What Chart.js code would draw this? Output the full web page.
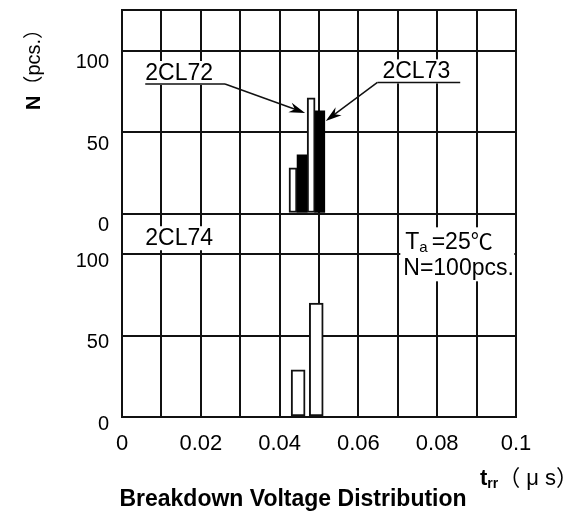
<!DOCTYPE html>
<html>
<head>
<meta charset="utf-8">
<script src="https://cdn.jsdelivr.net/npm/chart.js@4.4.0/dist/chart.umd.min.js"></script>
<style>
  html, body { margin: 0; padding: 0; background: #fff; }
</style>
</head>
<body>
<canvas id="chart" width="574" height="525"></canvas>
<script>
// tick labels
const xTickLabels = [0, 0.02, 0.04, 0.06, 0.08, 0.1];
const yTickLabels = [0, 50, 100];

// upper panel: 2CL72 (white) and 2CL73 (black)
const times72 = [0.0434, 0.0480];
const counts72 = [28, 71];
const times73 = [0.0457, 0.0502];
const counts73 = [36, 63];
// lower panel: 2CL74
const times74 = [0.0447, 0.0493];
const counts74 = [29, 70];

const FONT = "'Liberation Sans', Arial, 'Noto Sans CJK SC', sans-serif";
const INK = "#111";

Chart.defaults.font.family = FONT;
Chart.defaults.color = "#000";

const toPoints = (xs, ys) => xs.map((t, i) => ({ x: t, y: ys[i] }));

const yAxis = (labelOffset) => ({
  type: "linear",
  position: "left",
  stack: "n",
  stackWeight: 1,
  min: 0,
  max: 125,
  offset: false,
  grid: { color: INK, lineWidth: 2, drawTicks: false },
  border: { color: INK, width: 2 },
  ticks: {
    stepSize: 25,
    padding: 13,
    labelOffset: labelOffset,
    font: { size: 20 },
    color: "#000",
    callback: (v) => (yTickLabels.includes(v) ? String(v) : "")
  },
  afterFit: (s) => {
    s.width = 110;
    s.paddingTop = 0;
    s.paddingBottom = 0;
  }
});

const textWithBg = (ctx, str, x, y) => {
  const w = ctx.measureText(str).width;
  ctx.fillStyle = "#fff";
  ctx.fillRect(x - 3, y - 19, w + 6, 24);
  ctx.fillStyle = "#000";
  ctx.fillText(str, x, y);
  return w;
};

const arrow = (ctx, x1, y1, x2, y2) => {
  const a = Math.atan2(y2 - y1, x2 - x1);
  const len = 16, half = 5;
  const bx = x2 - len * Math.cos(a), by = y2 - len * Math.sin(a);
  ctx.beginPath();
  ctx.moveTo(x1, y1);
  ctx.lineTo(x2 - 10 * Math.cos(a), y2 - 10 * Math.sin(a));
  ctx.stroke();
  ctx.beginPath();
  ctx.moveTo(x2, y2);
  ctx.lineTo(bx + half * Math.sin(a), by - half * Math.cos(a));
  ctx.lineTo(x2 - 11 * Math.cos(a), y2 - 11 * Math.sin(a));
  ctx.lineTo(bx - half * Math.sin(a), by + half * Math.cos(a));
  ctx.closePath();
  ctx.fill();
};

const notes = {
  id: "notes",
  afterDatasetsDraw(chart) {
    const { ctx, scales } = chart;
    const x = scales.x, yTop = scales.yTop, yBot = scales.yBot;
    ctx.save();
    ctx.font = "23px " + FONT;
    ctx.textBaseline = "alphabetic";
    ctx.strokeStyle = INK;
    ctx.fillStyle = "#000";
    ctx.lineWidth = 1.5;

    // 2CL72 label, underline and arrow to the tall white bar
    let lx = x.getPixelForValue(0.0059), ly = yTop.getPixelForValue(82);
    let w = textWithBg(ctx, "2CL72", lx, ly);
    ctx.beginPath();
    ctx.moveTo(lx, ly + 4);
    ctx.lineTo(lx + w + 12, ly + 4);
    ctx.stroke();
    arrow(ctx, lx + w + 12, ly + 4,
      x.getPixelForValue(times72[1]) - 6, yTop.getPixelForValue(counts72[1]) + 15);

    // 2CL73 label, underline and arrow to the tall black bar
    lx = x.getPixelForValue(0.0661); ly = yTop.getPixelForValue(83);
    w = textWithBg(ctx, "2CL73", lx, ly);
    ctx.beginPath();
    ctx.moveTo(lx - 5, ly + 4);
    ctx.lineTo(lx + w + 10, ly + 4);
    ctx.stroke();
    arrow(ctx, lx - 5, ly + 4,
      x.getPixelForValue(times73[1]) + 6, yTop.getPixelForValue(counts73[1]) + 10);

    // 2CL74 label
    textWithBg(ctx, "2CL74", x.getPixelForValue(0.0059), yBot.getPixelForValue(105.5));

    // conditions box
    const cx = x.getPixelForValue(0.0719);
    const c1 = yBot.getPixelForValue(103), c2 = yBot.getPixelForValue(87);
    ctx.fillStyle = "#fff";
    ctx.fillRect(cx - 5, c1 - 22, 114, 54);
    ctx.fillStyle = "#000";
    ctx.fillText("T", cx, c1);
    let tw = ctx.measureText("T").width;
    ctx.font = "15px " + FONT;
    ctx.fillText("a", cx + tw, c1 + 3);
    tw += ctx.measureText("a").width + 4;
    ctx.font = "23px " + FONT;
    ctx.fillText("=25", cx + tw, c1);
    tw += ctx.measureText("=25").width;
    ctx.font = "22px 'Noto Sans CJK SC', " + FONT;
    ctx.fillText("℃", cx + tw, c1);
    ctx.font = "23px " + FONT;
    ctx.fillText("N=100pcs.", cx - 2, c2);

    // y axis title, rotated, beside the upper panel
    ctx.save();
    ctx.translate(40, 110);
    ctx.rotate(-Math.PI / 2);
    ctx.font = "bold 20px " + FONT;
    ctx.fillText("N", 0, 0);
    const nw = ctx.measureText("N").width;
    ctx.font = "20px " + FONT;
    ctx.fillText("（pcs.）", nw, 0);
    ctx.restore();

    // x axis title t_rr (μs)
    let ax = 480;
    const ab = 485;
    ctx.font = "bold 22px " + FONT;
    ctx.fillText("t", ax, ab);
    ax += ctx.measureText("t").width;
    ctx.font = "bold 14px " + FONT;
    ctx.fillText("rr", ax, ab + 3);
    ax += ctx.measureText("rr").width;
    ctx.font = "22px " + FONT;
    ctx.fillText("（ μ s）", ax, ab);
    ctx.restore();
  }
};

new Chart(document.getElementById("chart"), {
  type: "bar",
  data: {
    datasets: [
      {
        label: "2CL72",
        data: toPoints(times72, counts72),
        yAxisID: "yTop",
        backgroundColor: "#fff",
        borderColor: INK,
        borderWidth: 2,
        borderSkipped: false,
        barThickness: 8,
        grouped: false,
        order: 0
      },
      {
        label: "2CL73",
        data: toPoints(times73, counts73),
        yAxisID: "yTop",
        backgroundColor: "#000",
        borderWidth: 0,
        barThickness: 10,
        grouped: false,
        order: 1
      },
      {
        label: "2CL74",
        data: toPoints(times74, counts74),
        yAxisID: "yBot",
        backgroundColor: "#fff",
        borderColor: INK,
        borderWidth: 2,
        borderSkipped: false,
        barThickness: 14,
        grouped: false,
        order: 0
      }
    ]
  },
  options: {
    responsive: false,
    devicePixelRatio: 1,
    animation: false,
    layout: { padding: { left: 12, right: 0, top: 10, bottom: 0 } },
    plugins: {
      legend: { display: false },
      tooltip: { enabled: false },
      title: {
        display: true,
        position: "bottom",
        text: "Breakdown Voltage Distribution",
        font: { size: 23, weight: "bold" },
        color: "#000",
        padding: { top: 0, bottom: 12 }
      }
    },
    scales: {
      x: {
        type: "linear",
        min: 0,
        max: 0.1,
        offset: false,
        grid: { color: INK, lineWidth: 2, drawTicks: false, offset: false },
        border: { color: INK, width: 2 },
        ticks: {
          stepSize: 0.01,
          autoSkip: false,
          maxRotation: 0,
          padding: 14,
          font: { size: 22 },
          color: "#000",
          callback: (v) => {
            const hit = xTickLabels.find((t) => Math.abs(t - v) < 1e-9);
            return hit === undefined ? "" : String(hit);
          }
        },
        afterFit: (s) => { s.height = 68.4; }
      },
      xTop: {
        type: "linear",
        position: "top",
        min: 0,
        max: 0.1,
        grid: { display: false },
        ticks: { display: false },
        border: { color: INK, width: 2 },
        afterFit: (s) => { s.height = 0; s.paddingLeft = 0; s.paddingRight = 0; }
      },
      yRight: {
        type: "linear",
        position: "right",
        grid: { display: false },
        ticks: { display: false },
        border: { display: false },
        afterFit: (s) => { s.width = 58; s.paddingTop = 0; s.paddingBottom = 0; }
      },
      yBot: yAxis(7),
      yTop: yAxis(12)
    }
  },
  plugins: [notes]
});
</script>
</body>
</html>
